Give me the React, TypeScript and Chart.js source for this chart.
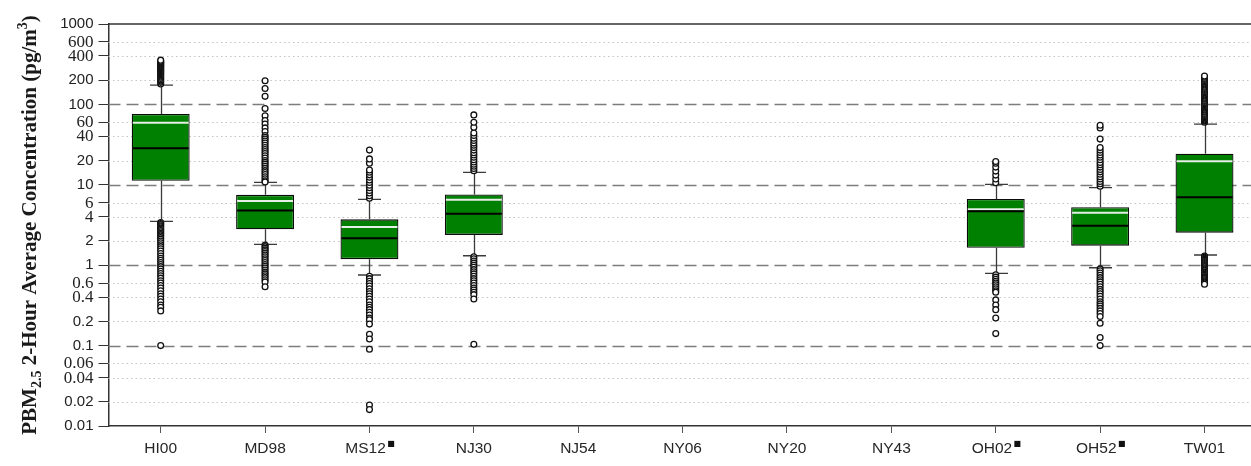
import { useEffect, useRef } from 'react';
import { Chart, registerables } from 'chart.js';

Chart.register(...registerables);

// ---- data ----
const stations = ['HI00', 'MD98', 'MS12', 'NJ30', 'NJ54', 'NY06', 'NY20', 'NY43', 'OH02', 'OH52', 'TW01'];
const flagged = [false, false, true, false, false, false, false, false, true, true, false];

const q1 = [11.2, 2.8, 1.19, 2.38, null, null, null, null, 1.65, 1.75, 2.54];
const q3 = [76, 7.5, 3.72, 7.6, null, null, null, null, 6.65, 5.25, 24.4];
const medians = [28.4, 4.8, 2.16, 4.37, null, null, null, null, 4.68, 3.1, 7.0];
const means = [59, 6.3, 2.98, 6.5, null, null, null, null, 4.95, 4.5, 19.6];
const whiskerLow = [3.5, 1.82, 0.755, 1.31, null, null, null, null, 0.79, 0.93, 1.34];
const whiskerHigh = [174, 10.7, 6.6, 14.3, null, null, null, null, 10.1, 9.2, 57];

const outHI00 = [
  180, 188, 195, 203, 210, 218, 225, 233, 240, 248, 255, 263, 270, 278, 285, 293, 300, 308, 315, 323, 330, 338, 345, 355,
  3.4, 3.3, 3.2, 3.1, 3.0, 2.9, 2.8, 2.7, 2.6, 2.5, 2.4, 2.3, 2.2, 2.1, 2.0, 1.9, 1.8, 1.7, 1.6, 1.5, 1.4, 1.3, 1.22, 1.15, 1.08, 1.02, 0.96,
  0.9, 0.84, 0.79, 0.74, 0.69, 0.64, 0.6, 0.56, 0.52, 0.48, 0.44, 0.41, 0.38, 0.35, 0.32, 0.3, 0.27,
  0.1,
];
const outMD98 = [
  197, 158, 126, 89, 72, 63, 57, 51, 46,
  41, 39, 37, 35, 33, 31, 29, 27.5, 26, 24.5, 23, 21.5, 20, 19, 18, 17, 16, 15, 14.2, 13.4, 12.6, 11.9, 11.2, 10.8,
  1.78, 1.7, 1.62, 1.55, 1.48, 1.41, 1.34, 1.27, 1.2, 1.14, 1.08, 1.02, 0.97, 0.92, 0.87, 0.82, 0.78, 0.74, 0.7, 0.66, 0.62,
  0.54,
];
const outMS12 = [
  6.8, 7.3, 7.9, 8.5, 9.2, 9.9, 10.7, 11.5, 12.4, 13.3, 14.3, 15.3, 18.5, 21, 27,
  0.73, 0.68, 0.63, 0.59, 0.55, 0.51, 0.47, 0.44, 0.41, 0.38, 0.35, 0.32, 0.3, 0.28, 0.26, 0.24, 0.22, 0.21,
  0.185, 0.138, 0.121, 0.09, 0.0182, 0.016,
];
const outNJ30 = [
  15, 16, 17, 18, 19.2, 20.5, 22, 23.5, 25, 27, 29, 31, 33, 35.5, 38, 41, 44, 52, 60, 74,
  1.27, 1.2, 1.13, 1.06, 1.0, 0.94, 0.88, 0.83, 0.78, 0.73, 0.68, 0.64, 0.6, 0.56, 0.52, 0.49, 0.46, 0.43,
  0.38, 0.104,
];
const outOH02 = [
  10.6, 11.8, 13.2, 14.8, 16.6, 18.6, 19.5,
  0.76, 0.71, 0.67, 0.63, 0.6, 0.57, 0.54, 0.51, 0.48, 0.46, 0.37, 0.32, 0.28, 0.22, 0.141,
];
const outOH52 = [
  9.6, 10.3, 11, 11.8, 12.6, 13.5, 14.5, 15.5, 16.6, 17.8, 19, 20.5, 22, 23.5, 25.2, 27, 29, 37, 51, 55,
  0.9, 0.85, 0.8, 0.75, 0.7, 0.66, 0.62, 0.58, 0.54, 0.5, 0.47, 0.44, 0.41, 0.38, 0.35, 0.33, 0.31, 0.29, 0.27, 0.25, 0.23,
  0.19, 0.126, 0.1,
];
const outTW01 = [
  60, 62, 64, 66, 68, 70, 72, 75, 77, 80, 82, 85, 87, 90, 93, 96, 99, 102, 105, 109, 112, 116, 119, 123, 127, 131, 135, 140,
  144, 149, 153, 158, 163, 168, 174, 180, 185, 191, 197, 204, 210, 218, 225,
  1.3, 1.26, 1.22, 1.18, 1.15, 1.11, 1.08, 1.05, 1.02, 0.99, 0.96, 0.93, 0.9, 0.87, 0.85, 0.82, 0.8, 0.77, 0.75, 0.72, 0.7, 0.68,
  0.66, 0.64, 0.62, 0.6, 0.58,
];
const outliers: number[][] = [outHI00, outMD98, outMS12, outNJ30, [], [], [], [], outOH02, outOH52, outTW01];

const yTickValues = [1000, 600, 400, 200, 100, 60, 40, 20, 10, 6, 4, 2, 1, 0.6, 0.4, 0.2, 0.1, 0.06, 0.04, 0.02, 0.01];
const yTickLabels = ['1000', '600', '400', '200', '100', '60', '40', '20', '10', '6', '4', '2', '1', '0.6', '0.4', '0.2', '0.1', '0.06', '0.04', '0.02', '0.01'];

const isDecade = (v: number) => Math.abs(Math.log10(v) - Math.round(Math.log10(v))) < 1e-9;
const SERIF = '"Liberation Serif", "Times New Roman", serif';
const SANS = '"Liberation Sans", Arial, sans-serif';
const X_FONT = `15.5px ${SANS}`;

export default function App() {
  const ref = useRef<HTMLCanvasElement>(null);

  useEffect(() => {
    const canvas = ref.current;
    if (!canvas) return;

    const points: { x: string; y: number }[] = [];
    outliers.forEach((arr, i) => arr.forEach((v) => points.push({ x: stations[i], y: v })));

    const boxPlugin = {
      id: 'boxExtras',
      beforeDatasetsDraw(chart: any) {
        const { ctx, chartArea, scales } = chart;
        const x = scales.x;
        const y = scales.y;
        ctx.save();
        // grid lines
        yTickValues.forEach((v) => {
          if (v === 1000 || v === 0.01) return;
          const py = Math.round(y.getPixelForValue(v)) + 0.5;
          const dec = isDecade(v);
          ctx.beginPath();
          ctx.setLineDash(dec ? [12, 6] : [1.5, 3]);
          ctx.strokeStyle = dec ? '#7c7c7c' : '#c4c4c4';
          ctx.lineWidth = dec ? 1.7 : 1.2;
          ctx.moveTo(chartArea.left, py);
          ctx.lineTo(chartArea.right, py);
          ctx.stroke();
        });
        ctx.setLineDash([]);
        // top frame line
        ctx.beginPath();
        ctx.strokeStyle = '#333';
        ctx.lineWidth = 1.5;
        ctx.moveTo(chartArea.left, chartArea.top);
        ctx.lineTo(chartArea.right, chartArea.top);
        ctx.stroke();
        // whiskers and caps
        ctx.strokeStyle = '#3a3a3a';
        ctx.lineWidth = 1.3;
        stations.forEach((_, i) => {
          if (q1[i] == null) return;
          const px = Math.round(x.getPixelForValue(i)) + 0.5;
          const yLo = y.getPixelForValue(whiskerLow[i]);
          const yHi = y.getPixelForValue(whiskerHigh[i]);
          const yQ1 = y.getPixelForValue(q1[i]);
          const yQ3 = y.getPixelForValue(q3[i]);
          ctx.beginPath();
          ctx.moveTo(px, yQ1);
          ctx.lineTo(px, yLo);
          ctx.moveTo(px, yQ3);
          ctx.lineTo(px, yHi);
          ctx.moveTo(px - 11.5, yLo);
          ctx.lineTo(px + 11.5, yLo);
          ctx.moveTo(px - 11.5, yHi);
          ctx.lineTo(px + 11.5, yHi);
          ctx.stroke();
        });
        ctx.restore();
      },
      afterDatasetsDraw(chart: any) {
        const { ctx, scales } = chart;
        const y = scales.y;
        const meta = chart.getDatasetMeta(0);
        ctx.save();
        stations.forEach((_, i) => {
          if (q1[i] == null) return;
          const el = meta.data[i];
          const half = el.width / 2 - 1;
          const ym = y.getPixelForValue(means[i]);
          const yd = y.getPixelForValue(medians[i]);
          ctx.lineWidth = 2;
          ctx.strokeStyle = '#e6efe6';
          ctx.beginPath();
          ctx.moveTo(el.x - half, ym);
          ctx.lineTo(el.x + half, ym);
          ctx.stroke();
          ctx.strokeStyle = '#000';
          ctx.beginPath();
          ctx.moveTo(el.x - half, yd);
          ctx.lineTo(el.x + half, yd);
          ctx.stroke();
        });
        ctx.restore();
      },
      afterDraw(chart: any) {
        const { ctx, scales, chartArea } = chart;
        const x = scales.x;
        const y = scales.y;
        ctx.save();
        // y tick labels (mixed serif / sans like the original figure)
        ctx.textAlign = 'right';
        ctx.textBaseline = 'middle';
        ctx.fillStyle = '#222';
        yTickValues.forEach((v, i) => {
          const lbl = yTickLabels[i];
          const lead = lbl.replace(/[0.]/g, '').charAt(0);
          const serif = lead === '4' || lead === '6';
          ctx.font = serif ? `17px ${SERIF}` : `15px ${SANS}`;
          ctx.fillText(lbl, chartArea.left - 15, y.getPixelForValue(v) + (serif ? 0.5 : 0));
        });
        // footnote markers on flagged station labels
        ctx.font = X_FONT;
        ctx.textAlign = 'left';
        ctx.textBaseline = 'top';
        stations.forEach((name, i) => {
          if (!flagged[i]) return;
          ctx.font = X_FONT;
          const full = ctx.measureText(name + '\u2002').width;
          const nw = ctx.measureText(name).width;
          const cx = x.getPixelForValue(i);
          const left = cx - full / 2 + nw + 1.5;
          ctx.font = `8px "DejaVu Sans", sans-serif`;
          ctx.fillStyle = '#111';
          ctx.fillText('\u25A0', left, 440);
        });
        // y-axis title with sub/superscripts
        const parts: { t: string; size: number; dy: number }[] = [
          { t: 'PBM', size: 21, dy: 0 },
          { t: '2.5', size: 14, dy: 5 },
          { t: ' 2-Hour Average Concentration (pg/m', size: 21, dy: 0 },
          { t: '3', size: 14, dy: -9 },
          { t: ')', size: 21, dy: 0 },
        ];
        const font = (s: number) => `bold ${s}px ${SERIF}`;
        let total = 0;
        parts.forEach((p) => {
          ctx.font = font(p.size);
          total += ctx.measureText(p.t).width;
        });
        ctx.translate(35.5, 225);
        ctx.rotate(-Math.PI / 2);
        ctx.fillStyle = '#1a1a1a';
        ctx.textBaseline = 'alphabetic';
        ctx.textAlign = 'left';
        let cur = -total / 2;
        parts.forEach((p) => {
          ctx.font = font(p.size);
          ctx.fillText(p.t, cur, p.dy);
          cur += ctx.measureText(p.t).width;
        });
        ctx.restore();
      },
    };

    const chart = new Chart(canvas, {
      type: 'bar',
      data: {
        labels: stations,
        datasets: [
          {
            type: 'bar',
            label: 'IQR',
            data: q1.map((v, i) => (v == null ? null : [v, q3[i] as number])) as any,
            backgroundColor: '#008000',
            borderColor: '#0a0a0a',
            borderWidth: 1.3,
            borderSkipped: false,
            barPercentage: 0.555,
            categoryPercentage: 1,
          },
          {
            type: 'scatter',
            label: 'Outliers',
            data: points as any,
            pointStyle: 'circle',
            pointRadius: 2.9,
            pointBorderWidth: 1.3,
            pointBorderColor: '#111',
            pointBackgroundColor: '#fff',
          },
        ],
      },
      options: {
        animation: false,
        responsive: false,
        maintainAspectRatio: false,
        devicePixelRatio: 1,
        layout: { padding: { top: 24, right: 1.5, left: 0, bottom: 0 } },
        plugins: { legend: { display: false }, tooltip: { enabled: false }, title: { display: false } },
        events: [],
        scales: {
          x: {
            type: 'category',
            offset: true,
            grid: { drawOnChartArea: false, drawTicks: true, tickLength: 7, color: '#555', offset: false },
            border: { display: true, color: '#333', width: 1.5 },
            ticks: {
              autoSkip: false,
              maxRotation: 0,
              padding: 6,
              color: '#262626',
              font: { family: SANS, size: 15.5 },
              callback: (_v: any, i: number) => stations[i] + (flagged[i] ? '\u2002' : ''),
            },
            afterFit: (s: any) => {
              s.height = 40;
            },
          },
          y: {
            type: 'logarithmic',
            min: 0.01,
            max: 1000,
            grid: { drawOnChartArea: false, drawTicks: true, tickLength: 10, color: '#333' },
            border: { display: true, color: '#333', width: 1.5 },
            afterBuildTicks: (s: any) => {
              s.ticks = yTickValues.map((v) => ({ value: v }));
            },
            afterFit: (s: any) => {
              s.width = 108.5;
            },
            ticks: {
              display: false,
              autoSkip: false,
              callback: (_v: any, i: number) => yTickLabels[i],
            },
          },
        },
      },
      plugins: [boxPlugin],
    });

    return () => chart.destroy();
  }, []);

  return (
    <div
      style={{
        position: 'fixed',
        left: 0,
        top: 0,
        width: 1251,
        height: 466,
        overflow: 'hidden',
        background: '#fff',
      }}
    >
      <canvas ref={ref} width={1262} height={466} style={{ width: 1262, height: 466, display: 'block' }} />
    </div>
  );
}
